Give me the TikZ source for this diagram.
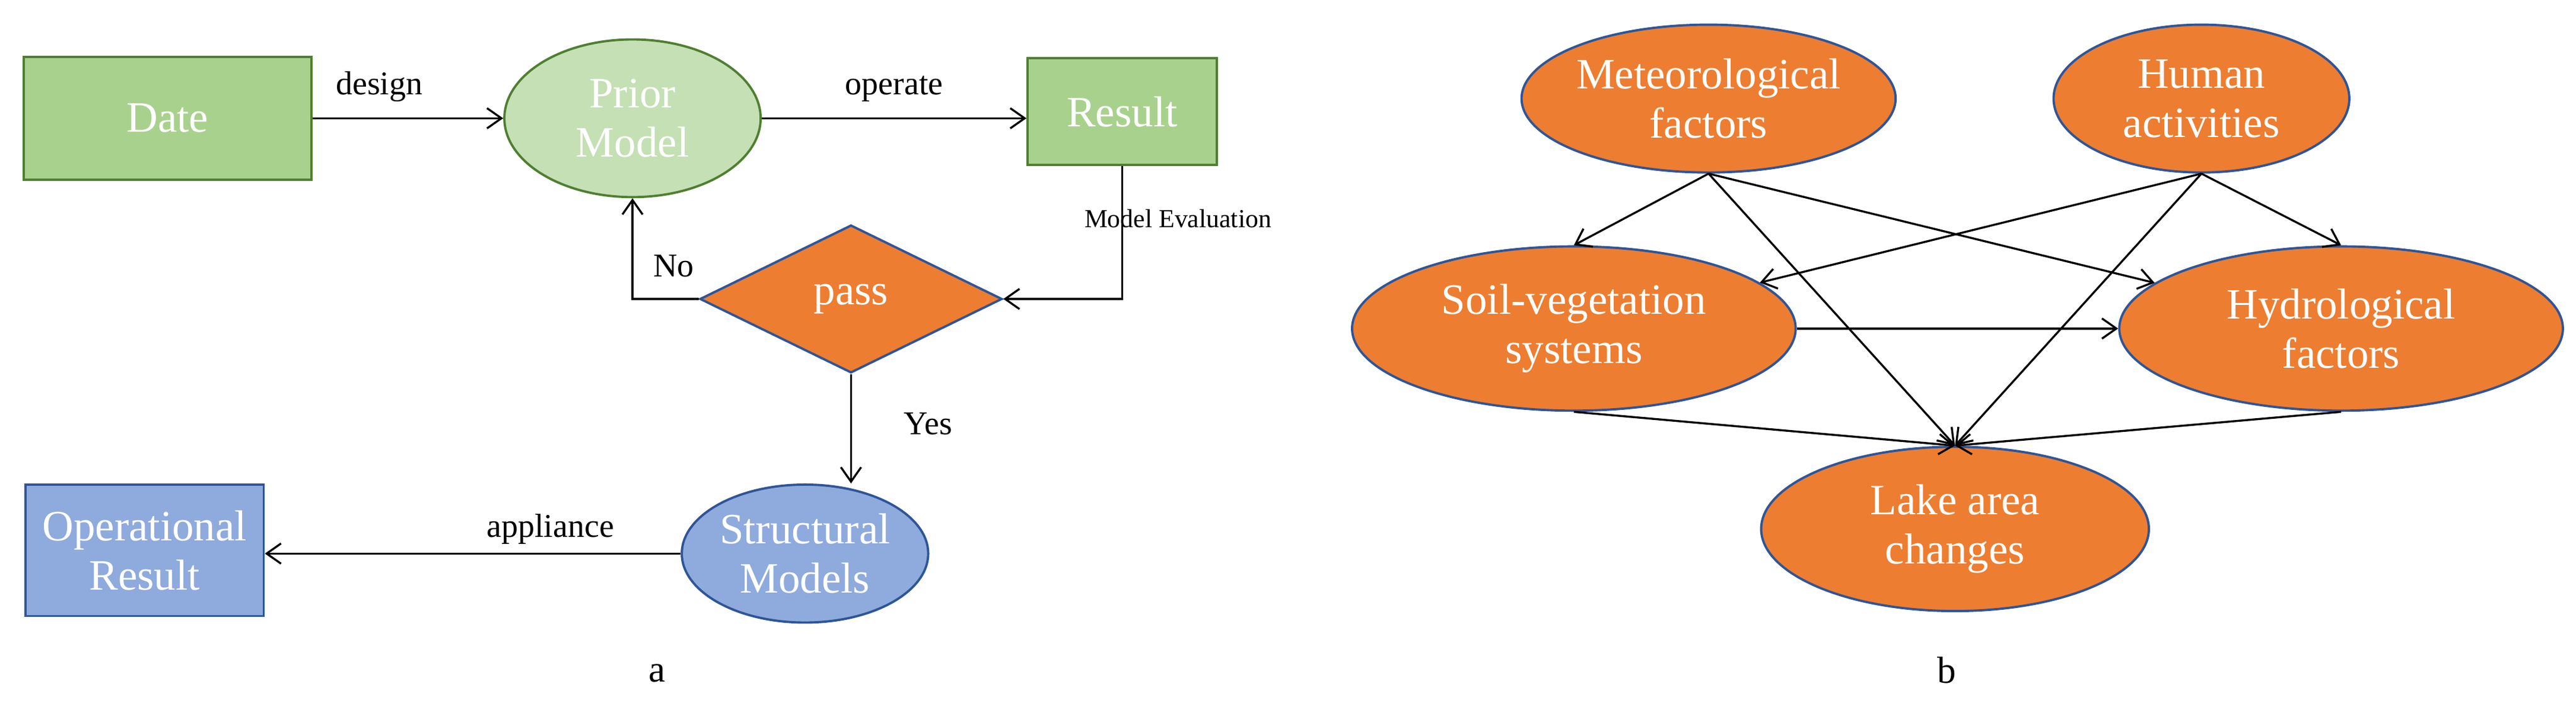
\documentclass[tikz,border=0pt]{standalone}
\usepackage{fontspec}
\setmainfont{Liberation Serif}
\usetikzlibrary{shapes.geometric,arrows.meta}
\definecolor{gfill}{HTML}{A9D18E}
\definecolor{gfill2}{HTML}{C5E0B4}
\definecolor{gline}{HTML}{507E32}
\definecolor{ofill}{HTML}{ED7D31}
\definecolor{oline}{HTML}{2F5597}
\definecolor{bfill}{HTML}{8FAADC}
\definecolor{bline}{HTML}{2F5597}
\begin{document}
\begin{tikzpicture}[x=0.02cm,y=-0.02cm,
  box/.style={draw,line width=0.8pt,inner sep=0pt,font=\fontsize{15}{17}\selectfont,text=white,align=center},
  ell/.style={box,ellipse},
  arr/.style={-{Straight Barb[length=5pt,width=7pt]},line width=0.7pt},
  lab/.style={font=\fontsize{11.5}{13}\selectfont}]
\useasboundingbox (0,0) rectangle (1568,434);
% panel a
\node[box,fill=gfill,draw=gline,minimum width=175*0.02cm,minimum height=75*0.02cm] (date) at (102,72) {Date};
\node[ell,fill=gfill2,draw=gline,minimum width=156*0.02cm,minimum height=96*0.02cm] (prior) at (385,72) {Prior\\Model};
\node[box,fill=gfill,draw=gline,minimum width=115*0.02cm,minimum height=65*0.02cm] (res) at (683,68) {Result};
\node[box,diamond,aspect=2.05,fill=ofill,draw=oline,minimum width=184*0.02cm,minimum height=90*0.02cm] (pass) at (518,182) {pass};
\node[ell,fill=bfill,draw=bline,minimum width=150*0.02cm,minimum height=84*0.02cm] (struct) at (490,337) {Structural\\Models};
\node[box,fill=bfill,draw=bline,minimum width=145*0.02cm,minimum height=80*0.02cm] (oper) at (88,335) {Operational\\Result};
\draw[arr] (date.east) -- node[lab,above,pos=0.35,yshift=2pt]{design} (prior.west);
\draw[arr] (prior.east) -- node[lab,above,yshift=2pt]{operate} (prior.east -| res.west);
\coordinate (c1) at (res.south |- pass.east);
\draw[arr] (res.south) -- (c1) -- (pass.east);
\node[lab,font=\fontsize{9}{11}\selectfont] (me) at (717,133) {Model Evaluation};
\coordinate (c2) at (prior.south |- pass.west);
\draw[arr] (pass.west) -- (c2) -- (prior.south);
\node[lab] (no) at (410,162) {No};
\draw[arr] (pass.south) -- (struct.north -| pass.south);
\node[lab] (yes) at (565,258) {Yes};
\draw[arr] (struct.west) -- (struct.west -| oper.east) coordinate (c3);
\node[lab] (app) at (335,322) {appliance};
\node[lab,font=\fontsize{13}{15}\selectfont] (a) at (400,410) {a};
% panel b
\begin{scope}[every node/.append style={ell,fill=ofill,draw=oline}]
\node[minimum width=190*0.02cm,minimum height=90*0.02cm] (met) at (1040,60) {Meteorological\\factors};
\node[minimum width=180*0.02cm,minimum height=90*0.02cm] (hum) at (1340,60) {Human\\activities};
\node[minimum width=270*0.02cm,minimum height=100*0.02cm] (soil) at (958,200) {Soil-vegetation\\systems};
\node[minimum width=270*0.02cm,minimum height=100*0.02cm] (hyd) at (1425,200) {Hydrological\\factors};
\node[minimum width=236*0.02cm,minimum height=100*0.02cm] (lake) at (1190,322) {Lake area\\changes};
\end{scope}
\draw[arr] (met.south) -- (soil.north);
\draw[arr] (met.south) -- (hyd);
\draw[arr] (met.south) -- (lake.north);
\draw[arr] (hum.south) -- (soil);
\draw[arr] (hum.south) -- (hyd.north);
\draw[arr] (hum.south) -- (lake.north);
\draw[arr] (soil.east) -- (hyd.west);
\draw[arr] (soil.south) -- (lake.north);
\draw[arr] (hyd.south) -- (lake.north);
\node[lab,font=\fontsize{13}{15}\selectfont] (b) at (1185,408) {b};
\end{tikzpicture}
\end{document}
